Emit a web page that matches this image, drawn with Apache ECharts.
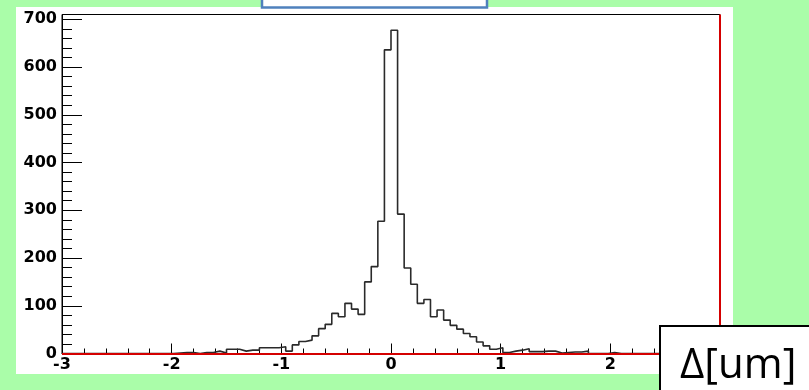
<!DOCTYPE html>
<html>
<head>
<meta charset="utf-8">
<script src="https://cdn.jsdelivr.net/npm/echarts@6/dist/echarts.min.js"></script>
<style>
  html, body { margin: 0; padding: 0; background: #aafda9; }
  #chart { width: 809px; height: 390px; }
</style>
</head>
<body>
<div id="chart"></div>
<script>
// histogram: 100 bins from -3 to 3
const binLow = -3
const binWidth = 0.06
const counts = [
  0, 0, 0, 0, 0, 0, 0, 0, 0, 0,
  0, 0, 0, 0, 0, 0, 0, 1, 2, 2,
  0, 2, 2, 5, 1, 9, 9, 5, 7, 7,
  12, 12, 12, 14, 5, 18, 25, 28, 37, 52,
  61, 84, 77, 105, 93, 82, 150, 182, 277, 636,
  677, 292, 179, 145, 105, 113, 77, 91, 70, 59,
  51, 42, 35, 24, 16, 9, 12, 2, 5, 7,
  10, 4, 4, 5, 5, 1, 2, 3, 3, 5,
  0, 0, 0, 2, 0, 0, 0, 0, 0, 0,
  0, 0, 0, 0, 0, 0, 0, 0, 0, 0
]
const xRange = [-3, 3]
const yRange = [0, 710]
const xStep = 1
const yStep = 100
const unitLabel = 'Δ[um]'

// step points at the bin low edges, plus the last upper edge
const pts = counts.map((c, i) => [binLow + i * binWidth, c])
pts.push([binLow + counts.length * binWidth, counts[counts.length - 1]])

const labelFont = {
  color: '#000',
  fontFamily: 'DejaVu Sans',
  fontWeight: 'bold',
  fontSize: 16
}

const chart = echarts.init(document.getElementById('chart'))
chart.setOption({
  animation: false,
  backgroundColor: '#aafda9',
  grid: {
    left: 62, right: 89, top: 14.5, bottom: 36.5,
    show: true, borderColor: '#000', borderWidth: 1,
    backgroundColor: '#fff'
  },
  xAxis: {
    type: 'value',
    min: xRange[0], max: xRange[1], interval: xStep,
    axisLine: { show: true, onZero: false, lineStyle: { color: '#000', width: 1 } },
    axisTick: { show: true, inside: true, length: 10, lineStyle: { color: '#000' } },
    minorTick: { show: true, splitNumber: 5, length: 5, lineStyle: { color: '#000' } },
    splitLine: { show: false },
    axisLabel: Object.assign({ margin: 3 }, labelFont)
  },
  yAxis: {
    type: 'value',
    min: yRange[0], max: yRange[1], interval: yStep,
    axisLine: { show: true, onZero: false, lineStyle: { color: '#000', width: 1 } },
    axisTick: { show: true, inside: true, length: 20, lineStyle: { color: '#000' } },
    minorTick: { show: true, splitNumber: 5, length: 10, lineStyle: { color: '#000' } },
    splitLine: { show: false },
    axisLabel: Object.assign({ margin: 5, showMaxLabel: false }, labelFont)
  },
  series: [
    {
      type: 'line',
      step: 'end',
      data: pts,
      symbol: 'none',
      lineStyle: { color: '#2a2a2a', width: 1.6 },
      markLine: {
        silent: true,
        symbol: 'none',
        label: { show: false },
        lineStyle: { color: '#d40000', width: 2, type: 'solid' },
        data: [{ yAxis: 0 }, { xAxis: xRange[1] }]
      }
    }
  ],
  graphic: [
    { type: 'rect', z: -10, shape: { x: 16, y: 7, width: 717, height: 367 }, style: { fill: '#fff' } },
    { type: 'rect', z: 100, shape: { x: 262, y: -10, width: 225, height: 17.5 },
      style: { fill: '#fff', stroke: '#4f81bd', lineWidth: 2.5 } },
    { type: 'rect', z: 100, shape: { x: 660, y: 326, width: 160, height: 80 },
      style: { fill: '#fff', stroke: '#000', lineWidth: 2 } },
    { type: 'text', z: 101,
      style: { text: unitLabel, x: 680, y: 366, fill: '#000',
        font: '42px "Open Sans"', verticalAlign: 'middle' } }
  ]
})
</script>
</body>
</html>
